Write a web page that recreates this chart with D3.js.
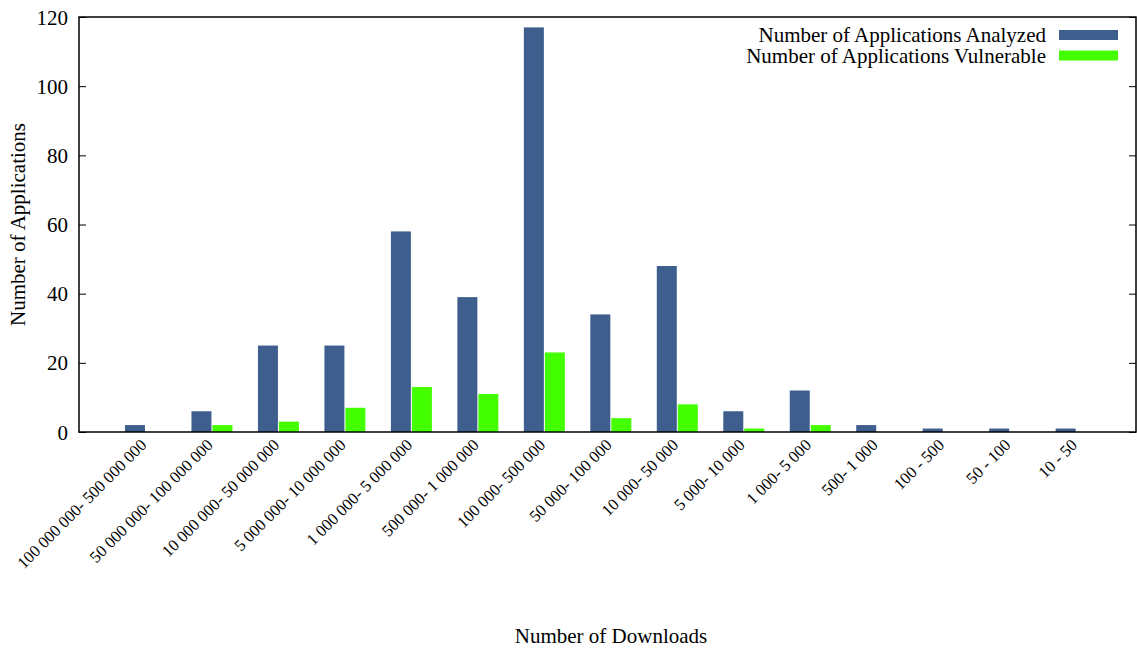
<!DOCTYPE html>
<html lang="en">
<head>
    <meta charset="UTF-8">
    <title>Applications by Number of Downloads</title>
    <script src="https://d3js.org/d3.v7.min.js"></script>
    <style>
        body { margin: 0; background: #fff; }
        text { font-family: "Liberation Serif", "DejaVu Serif", serif; fill: #000; }
    </style>
</head>
<body>
    <svg width="1137" height="648"></svg>
    <script>
        const categories = [
            "100 000 000- 500 000 000", "50 000 000- 100 000 000", "10 000 000- 50 000 000",
            "5 000 000- 10 000 000", "1 000 000- 5 000 000", "500 000- 1 000 000",
            "100 000- 500 000", "50 000- 100 000", "10 000- 50 000", "5 000- 10 000",
            "1 000- 5 000", "500- 1 000", "100 - 500", "50 - 100", "10 - 50"
        ];
        const analyzed = [2, 6, 25, 25, 58, 39, 117, 34, 48, 6, 12, 2, 1, 1, 1];
        const vulnerable = [0, 2, 3, 7, 13, 11, 23, 4, 8, 1, 2, 0, 0, 0, 0];
        const seriesNames = ["Number of Applications Analyzed", "Number of Applications Vulnerable"];
        const seriesColors = ["#3e5f8e", "#44ff00"];
        const yTicks = [0, 20, 40, 60, 80, 100, 120];

        const svg = d3.select("svg");
        const plotL = 79, plotR = 1136, plotT = 17, plotB = 432;

        const x = d3.scaleLinear().domain([-1, 14.9]).range([plotL, plotR]);
        const y = d3.scaleLinear().domain([0, 120]).range([plotB, plotT]);
        const barW = 20;

        // bars
        [analyzed, vulnerable].forEach((vals, s) => {
            svg.append("g").selectAll("rect")
                .data(vals)
                .enter().append("rect")
                .attr("x", (d, i) => s === 0 ? x(i) - barW - 0.5 : x(i) + 0.5)
                .attr("y", d => y(d))
                .attr("width", barW)
                .attr("height", d => plotB - y(d))
                .attr("fill", seriesColors[s]);
        });

        // y ticks left and mirrored on right
        const yl = svg.append("g").attr("transform", `translate(${plotL},0)`)
            .call(d3.axisLeft(y).tickValues(yTicks).tickSize(-7).tickPadding(11));
        yl.select(".domain").remove();
        yl.selectAll("line").attr("stroke", "#000");
        yl.selectAll("text")
            .style("font-size", "21px")
            .style("font-family", "Liberation Serif, serif")
            .attr("dy", "0.34em");

        const yr = svg.append("g").attr("transform", `translate(${plotR},0)`)
            .call(d3.axisRight(y).tickValues(yTicks).tickSize(-7).tickFormat(""));
        yr.select(".domain").remove();
        yr.selectAll("line").attr("stroke", "#000");

        // border
        svg.append("rect")
            .attr("x", plotL).attr("y", plotT)
            .attr("width", plotR - plotL).attr("height", plotB - plotT)
            .attr("fill", "none").attr("stroke", "#000").attr("stroke-width", 1.5);

        // x labels, rotated
        svg.append("g").selectAll("text")
            .data(categories)
            .enter().append("text")
            .attr("transform", (d, i) => `translate(${x(i) + 2},${plotB + 14}) rotate(-45)`)
            .attr("text-anchor", "end")
            .style("font-size", "16.5px")
            .text(d => d);

        // axis titles
        svg.append("text")
            .attr("transform", `translate(25,${(plotT + plotB) / 2}) rotate(-90)`)
            .attr("text-anchor", "middle")
            .style("font-size", "21px")
            .text("Number of Applications");

        svg.append("text")
            .attr("x", 611).attr("y", 643)
            .attr("text-anchor", "middle")
            .style("font-size", "21px")
            .text("Number of Downloads");

        // legend
        const legend = svg.append("g");
        seriesNames.forEach((name, i) => {
            legend.append("text")
                .attr("x", 1046).attr("y", 42 + i * 20.5)
                .attr("text-anchor", "end")
                .style("font-size", "21px")
                .text(name);
            legend.append("rect")
                .attr("x", 1059).attr("y", 30 + i * 20.5)
                .attr("width", 59).attr("height", 10)
                .attr("fill", seriesColors[i]);
        });
    </script>
</body>
</html>
